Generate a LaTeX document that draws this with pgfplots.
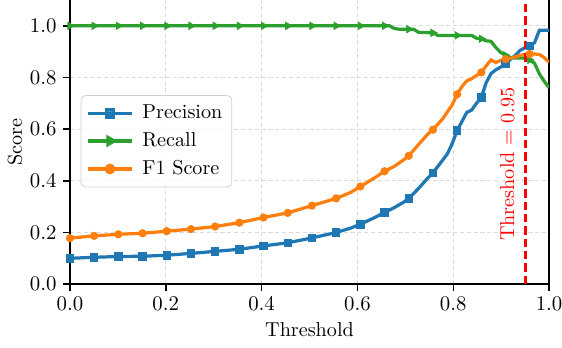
\documentclass[border=0pt]{standalone}
\usepackage{pgfplots}
\pgfplotsset{compat=1.18}
\definecolor{tabblue}{HTML}{1F77B4}
\definecolor{tabgreen}{HTML}{2CA02C}
\definecolor{taborange}{HTML}{FF7F0E}
\begin{document}
\begin{tikzpicture}
\begin{axis}[
  name=ax,
  scale only axis,
  width=252.1pt, height=149.5pt,
  xmin=0, xmax=1, ymin=0, ymax=1.1,
  axis x line*=bottom, axis y line*=box,
  axis line style={line width=0.8pt},
  xtick={0,0.2,0.4,0.6,0.8,1.0},
  ytick={0,0.2,0.4,0.6,0.8,1.0},
  xticklabel style={/pgf/number format/.cd,fixed,fixed zerofill,precision=1},
  yticklabel style={/pgf/number format/.cd,fixed,fixed zerofill,precision=1},
  tick label style={font=\fontsize{10.6}{12}\selectfont},
  label style={font=\fontsize{10.6}{12}\selectfont},
  tick align=outside,
  major tick length=3.5pt,
  tick style={line width=0.8pt, black},
  ytick pos=left, xtick pos=bottom,
  grid=major,
  major grid style={black!14, dash pattern=on 2.2pt off 1.4pt, line width=0.5pt},
  xlabel={Threshold}, ylabel={Score},
  xlabel style={at={(axis description cs:0.5,0)}, anchor=base, yshift=-27.4pt},
  ylabel style={at={(axis description cs:0,0.5)}, anchor=center, yshift=28.9pt},
  legend style={at={(0.0223,0.503)}, anchor=west, draw=black!18, rounded corners=2.5pt,
    fill=white, fill opacity=0.8, text opacity=1, inner xsep=3pt, inner ysep=3pt,
    row sep=1.8pt, column sep=2.8pt, font=\fontsize{10.6}{12}\selectfont},
  legend cell align=left,
  legend image code/.code={\draw[#1, mark repeat=2, mark phase=2] plot coordinates {(0pt,0pt) (11.4pt,0pt) (22.8pt,0pt)};},
  clip=true,
]
\addplot[tabblue, line width=1.7pt, forget plot] table {
0.0000 0.100
0.0505 0.104
0.1010 0.107
0.1515 0.108
0.2020 0.112
0.2525 0.119
0.3030 0.127
0.3535 0.135
0.4040 0.148
0.4545 0.160
0.5051 0.179
0.5556 0.200
0.5859 0.217
0.6061 0.232
0.6364 0.258
0.6566 0.278
0.6768 0.296
0.6970 0.318
0.7071 0.332
0.7273 0.370
0.7475 0.412
0.7576 0.431
0.7778 0.480
0.7879 0.505
0.7980 0.545
0.8081 0.595
0.8182 0.630
0.8283 0.665
0.8384 0.674
0.8485 0.700
0.8586 0.723
0.8687 0.780
0.8788 0.815
0.8889 0.830
0.8990 0.840
0.9091 0.853
0.9192 0.870
0.9293 0.885
0.9394 0.905
0.9495 0.915
0.9596 0.922
0.9697 0.935
0.9798 0.983
0.9899 0.983
1.0000 0.983
};
\addplot[only marks, mark=square*, mark size=1.95pt, color=tabblue, forget plot] table {
0.0000 0.100
0.0505 0.104
0.1010 0.107
0.1515 0.108
0.2020 0.112
0.2525 0.119
0.3030 0.127
0.3535 0.135
0.4040 0.148
0.4545 0.160
0.5051 0.179
0.5556 0.200
0.6061 0.232
0.6566 0.278
0.7071 0.332
0.7576 0.431
0.8081 0.595
0.8586 0.723
0.9091 0.853
0.9596 0.922
};
\addplot[tabgreen, line width=1.7pt, forget plot] table {
0.0000 1.000
0.6566 1.000
0.6667 1.000
0.6768 0.990
0.6869 0.987
0.7172 0.987
0.7273 0.975
0.7576 0.973
0.7677 0.963
0.8384 0.963
0.8485 0.952
0.8586 0.950
0.8687 0.942
0.8788 0.940
0.8889 0.916
0.8990 0.897
0.9091 0.886
0.9192 0.876
0.9495 0.875
0.9596 0.868
0.9697 0.855
0.9798 0.814
0.9899 0.785
1.0000 0.760
};
\addplot[only marks, mark=triangle*, mark size=2.2pt, mark options={rotate=-90}, color=tabgreen, forget plot] table {
0.0000 1.000
0.0505 1.000
0.1010 1.000
0.1515 1.000
0.2020 1.000
0.2525 1.000
0.3030 1.000
0.3535 1.000
0.4040 1.000
0.4545 1.000
0.5051 1.000
0.5556 1.000
0.6061 1.000
0.6566 1.000
0.7071 0.987
0.7576 0.973
0.8081 0.963
0.8586 0.950
0.9091 0.886
0.9596 0.868
};
\addplot[taborange, line width=1.7pt, forget plot] table {
0.0000 0.178
0.0505 0.187
0.1010 0.193
0.1515 0.197
0.2020 0.205
0.2525 0.213
0.3030 0.223
0.3535 0.238
0.4040 0.258
0.4545 0.276
0.5051 0.304
0.5556 0.332
0.5859 0.355
0.6061 0.378
0.6364 0.412
0.6566 0.437
0.6768 0.456
0.6970 0.482
0.7071 0.497
0.7273 0.540
0.7475 0.582
0.7576 0.598
0.7778 0.640
0.7980 0.695
0.8081 0.735
0.8182 0.765
0.8283 0.787
0.8384 0.795
0.8485 0.808
0.8586 0.820
0.8687 0.845
0.8788 0.868
0.8889 0.858
0.8990 0.866
0.9091 0.871
0.9192 0.874
0.9293 0.880
0.9394 0.885
0.9495 0.890
0.9596 0.891
0.9697 0.891
0.9798 0.889
0.9899 0.877
1.0000 0.858
};
\addplot[only marks, mark=*, mark size=1.95pt, color=taborange, forget plot] table {
0.0000 0.178
0.0505 0.187
0.1010 0.193
0.1515 0.197
0.2020 0.205
0.2525 0.213
0.3030 0.223
0.3535 0.238
0.4040 0.258
0.4545 0.276
0.5051 0.304
0.5556 0.332
0.6061 0.378
0.6566 0.437
0.7071 0.497
0.7576 0.598
0.8081 0.735
0.8586 0.820
0.9091 0.871
0.9596 0.891
};
\addplot[red, line width=1.7pt, dash pattern=on 4.4pt off 2.1pt, forget plot] coordinates {(0.95,0) (0.95,1.1)};
\addlegendimage{tabblue, line width=1.7pt, mark=square*, mark size=1.95pt}
\addlegendentry{Precision}
\addlegendimage{tabgreen, line width=1.7pt, mark=triangle*, mark size=2.2pt, mark options={rotate=-90}}
\addlegendentry{Recall}
\addlegendimage{taborange, line width=1.7pt, mark=*, mark size=1.95pt}
\addlegendentry{F1 Score}
\node[red, rotate=90, anchor=center, font=\fontsize{10.6}{12}\selectfont] at (axis cs:0.913,0.465) {Threshold = 0.95};
\end{axis}
\pgfresetboundingbox
\path[use as bounding box] ([shift={(-36.8pt,-33.2pt)}]ax.south west) rectangle ([shift={(6.8pt,0pt)}]ax.north east);
\end{tikzpicture}
\end{document}
